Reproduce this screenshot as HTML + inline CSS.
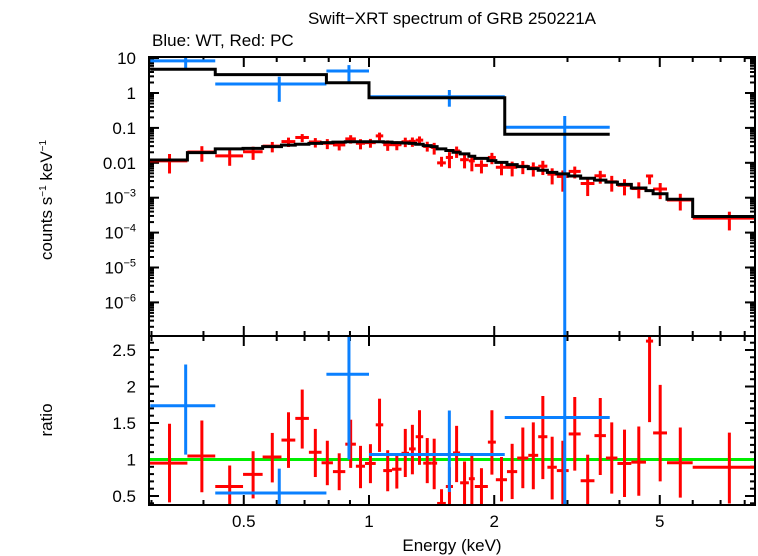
<!DOCTYPE html>
<html><head><meta charset="utf-8"><style>
body{margin:0;background:#fff;}
svg{display:block;font-family:"Liberation Sans",sans-serif;}
</style></head><body>
<svg id="chart" width="758" height="556" xmlns="http://www.w3.org/2000/svg">
<defs>
<clipPath id="clipTop"><rect x="149" y="57" width="606" height="279"/></clipPath>
<clipPath id="clipBot"><rect x="149" y="336" width="606" height="169"/></clipPath>
</defs>
<text x="452" y="24" font-size="17" text-anchor="middle">Swift−XRT spectrum of GRB 250221A</text>
<text x="152" y="46" font-size="17">Blue: WT, Red: PC</text>
<text transform="translate(52,200) rotate(-90)" font-size="17" text-anchor="middle">counts s<tspan font-size="10" dy="-6">−1</tspan><tspan dy="6"> keV</tspan><tspan font-size="10" dy="-6">−1</tspan></text>
<text transform="translate(52,420) rotate(-90)" font-size="17" text-anchor="middle">ratio</text>
<text x="452" y="551" font-size="17" text-anchor="middle">Energy (keV)</text>
<g id="ticks"></g>
<g id="topMarks" clip-path="url(#clipTop)"></g>
<g id="botMarks" clip-path="url(#clipBot)"></g>
<rect x="149" y="57" width="606" height="448" fill="none" stroke="#000" stroke-width="2"/>
<line x1="149" y1="336" x2="755" y2="336" stroke="#000" stroke-width="2"/>
</svg>
<script>
// ---- data ----
const pcEdges = [0.297,0.366,0.427,0.498,0.555,0.616,0.665,0.717,0.769,0.819,0.877,0.930,0.978,1.038,1.082,1.136,1.197,1.248,1.295,1.350,1.411,1.458,1.530,1.592,1.656,1.738,1.796,1.931,2.018,2.146,2.271,2.415,2.551,2.684,2.828,3.020,3.227,3.483,3.711,3.955,4.272,4.632,4.819,5.204,5.999,8.7];
const pcRatio = [0.950,1.048,0.630,0.797,1.034,1.266,1.563,1.099,0.955,0.834,1.210,0.908,0.946,1.475,0.848,0.867,1.085,1.145,1.312,0.950,0.950,0.398,0.630,1.090,0.681,0.737,0.630,1.238,0.723,0.834,1.020,1.057,1.312,0.894,0.848,1.350,0.709,1.327,1.020,0.946,0.964,2.622,1.364,0.955,0.894];
const pcRatioHi = [1.489,1.535,0.918,1.113,1.364,1.647,1.958,1.419,1.257,1.085,1.545,1.187,1.210,1.833,1.127,1.085,1.419,1.475,1.675,1.294,1.285,0.593,0.894,1.461,0.973,1.090,0.881,1.675,1.034,1.215,1.438,1.508,1.870,1.312,1.257,1.856,1.066,1.842,1.508,1.410,1.452,2.683,2.023,1.438,1.368];
const pcRatioLo = [0.412,0.551,0.328,0.467,0.686,0.885,1.150,0.760,0.648,0.579,0.885,0.607,0.676,1.104,0.565,0.602,0.760,0.797,0.927,0.676,0.593,0.31,0.31,0.690,0.384,0.370,0.370,0.792,0.426,0.458,0.607,0.593,0.732,0.453,0.31,0.848,0.31,0.788,0.533,0.486,0.504,1.512,0.700,0.477,0.398];
const pcModel = [0.012,0.0195,0.025,0.026,0.029,0.032,0.034,0.036,0.038,0.039,0.040,0.040,0.040,0.040,0.039,0.038,0.037,0.036,0.034,0.031,0.029,0.025,0.0226,0.020,0.018,0.0154,0.0134,0.0115,0.0103,0.0089,0.0078,0.0068,0.0061,0.0053,0.0048,0.0042,0.0036,0.0032,0.0028,0.0024,0.0019,0.0016,0.0013,0.00090,0.00029];
const wtEdges = [0.298,0.427,0.79,1.0,2.12,3.79];
const wtCounts = [8.3,1.81,4.27,0.78,0.104];
const wtHi = [11,2.93,6.3,1.22,0.22];
const wtLo = [5.1,0.56,1.97,0.405,1e-9];
const wtModel = [4.78,3.35,1.97,0.73,0.066];
const xMajor = [0.5,1,2,5];
const xMajorLabels = ["0.5","1","2","5"];
const xMinor = [0.3,0.4,0.6,0.7,0.8,0.9,3,4,6,7,8];
const yTopExp = [-7,-6,-5,-4,-3,-2,-1,0,1];
const yTopLabels = {"-6":"10^-6","-5":"10^-5","-4":"10^-4","-3":"10^-3","-2":"0.01","-1":"0.1","0":"1","1":"10"};
const yBotMajor = [0.5,1,1.5,2,2.5];
const yBotLabels = ["0.5","1","1.5","2","2.5"];

// ---- axes ----
const X0=149,X1=755,YT0=57,YT1=336,YB0=336,YB1=505;
const xs = e => 369 + 416*Math.log10(e);
const yT = v => 93 - 34.9*Math.log10(Math.max(v,1e-12));
const yB = r => 459.5 - 73*(r-1);
const NS="http://www.w3.org/2000/svg";
function mk(parent, tag, attrs){const el=document.createElementNS(NS,tag);for(const k in attrs)el.setAttribute(k,attrs[k]);parent.appendChild(el);return el;}
const ticksG=document.getElementById('ticks'), topG=document.getElementById('topMarks'), botG=document.getElementById('botMarks');
const BLUE="#0a80ff", RED="#ff0000";

function ln(g,x1,y1,x2,y2,c,w){return mk(g,'line',{x1,y1,x2,y2,stroke:c,'stroke-width':w});}

[[xMajor,10],[xMinor,5]].forEach(([arr,L])=>arr.forEach(e=>{
  const x=xs(e);
  [[YT0,1],[YT1,-1],[YB0,1],[YB1,-1]].forEach(([y,d])=>{
    const t=ln(ticksG,x,y,x,y+d*L,'#000',2);
    
    
  });
}));
xMajor.forEach((e,i)=>{
  const t=mk(ticksG,'text',{x:xs(e),y:527,'font-size':17,'text-anchor':'middle'});
  t.textContent=xMajorLabels[i];
  
  
});
yTopExp.forEach(p=>{
  for(let m=1;m<10;m++){
    const v=m*Math.pow(10,p), y=yT(v);
    if(y<YT0-0.5||y>YT1+0.5) continue;
    const L=m===1?10:5;
    [[X0,1],[X1,-1]].forEach(([x,d])=>{
      const t=ln(ticksG,x,y,x+d*L,y,'#000',2);
      
      
    });
  }
  const lab=yTopLabels[String(p)];
  if(lab){
    const t=mk(ticksG,'text',{x:136,y:yT(Math.pow(10,p))+6,'font-size':17,'text-anchor':'end'});
    if(lab.startsWith('10^')){
      t.textContent='10';
      const s=mk(t,'tspan',{'font-size':11,dy:-7});
      s.textContent=lab.slice(3).replace('-','−');
    } else t.textContent=lab;
    
    
  }
});
for(let k=4;k<=26;k++){
  const r=k/10;
  const y=yB(r); const isMaj=(k%5===0); const L=isMaj?10:5;
  [[X0,1],[X1,-1]].forEach(([x,d])=>{
    const t=ln(ticksG,x,y,x+d*L,y,'#000',2);
    
    
  });
}
yBotMajor.forEach((r,i)=>{
  const t=mk(ticksG,'text',{x:136,y:yB(r)+6,'font-size':17,'text-anchor':'end'});
  t.textContent=yBotLabels[i];
  
  
});

function stepPath(edges,vals){
  let d='';
  vals.forEach((v,i)=>{
    const xa=xs(edges[i]),xb=xs(edges[i+1]),y=yT(v);
    d+=(i===0?'M':'L')+xa+' '+y+' L'+xb+' '+y+' ';
  });
  return d;
}
const g=ln(botG,X0,yB(1),X1,yB(1),'#00ee00',3);



pcRatio.forEach((r,i)=>{
  const ea=pcEdges[i],eb=pcEdges[i+1],ec=(ea+eb)/2,m=pcModel[i];
  const xc=xs(ec);
  let a=ln(topG,xs(ea),yT(r*m),xs(eb),yT(r*m),RED,3);
  
  
  let b=ln(topG,xc,yT(pcRatioHi[i]*m),xc,yT(pcRatioLo[i]*m),RED,3);
  
  
  let c=ln(botG,xs(ea),yB(r),xs(eb),yB(r),RED,3);
  
  
  let d=ln(botG,xc,yB(pcRatioHi[i]),xc,yB(pcRatioLo[i]),RED,3);
  
  
});
wtCounts.forEach((v,i)=>{
  const ea=wtEdges[i],eb=wtEdges[i+1],ec=(ea+eb)/2,m=wtModel[i];
  const xc=xs(ec);
  let a=ln(topG,xs(ea),yT(v),xs(eb),yT(v),BLUE,3);
  
  
  let b=ln(topG,xc,yT(wtHi[i]),xc,yT(wtLo[i]),BLUE,3);
  
  
  let c=ln(botG,xs(ea),yB(v/m),xs(eb),yB(v/m),BLUE,3);
  
  
  let d=ln(botG,xc,yB(wtHi[i]/m),xc,yB(wtLo[i]/m),BLUE,3);
  
  
});
const pm=mk(topG,'path',{d:stepPath(pcEdges,pcModel),fill:'none',stroke:'#000','stroke-width':3});


const wm=mk(topG,'path',{d:stepPath(wtEdges,wtModel),fill:'none',stroke:'#000','stroke-width':3});


</script>
</body></html>
